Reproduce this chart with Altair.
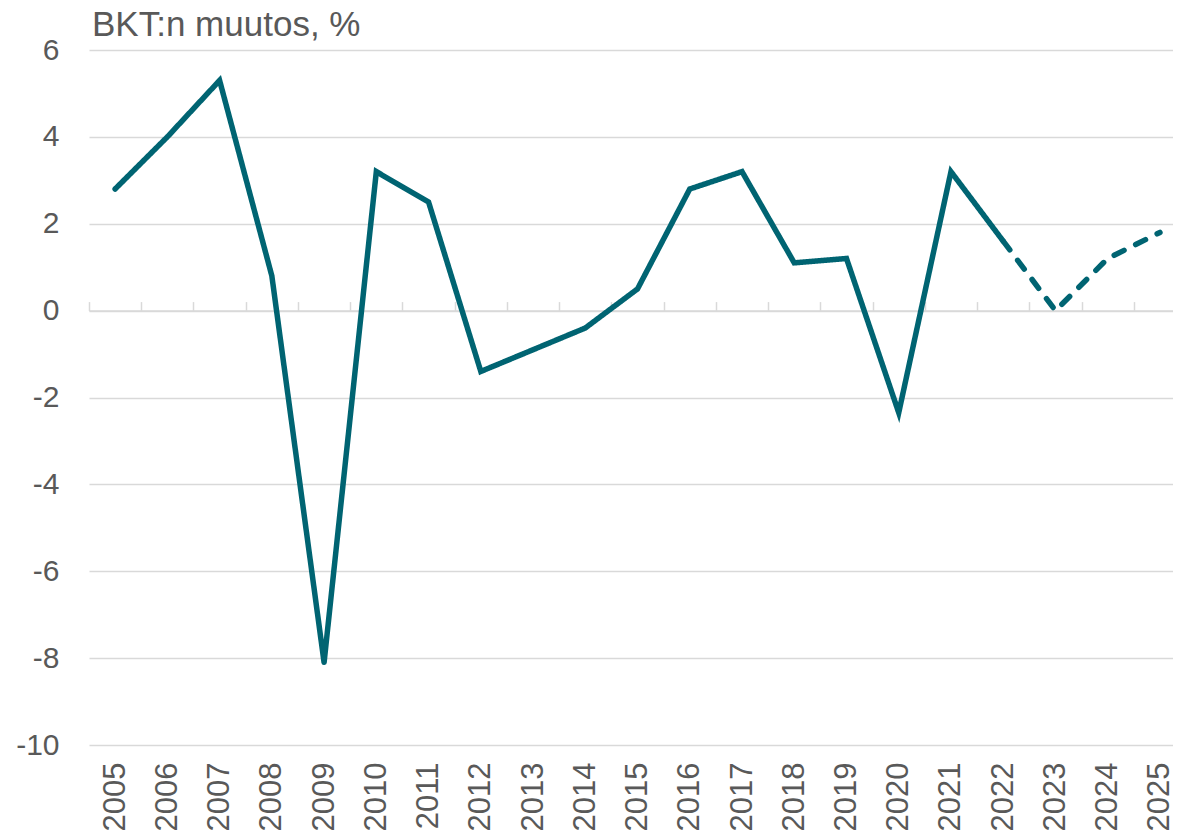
import altair as alt
import pandas as pd

years = list(range(2005, 2026))
actual_years = list(range(2005, 2023))
actual_vals = [2.8, 4.0, 5.3, 0.8, -8.1, 3.2, 2.5, -1.4, -0.9, -0.4, 0.5, 2.8, 3.2, 1.1, 1.2, -2.35, 3.2, 1.6]
forecast_years = [2022, 2023, 2024, 2025]
forecast_vals = [1.6, 0.0, 1.2, 1.8]
y_ticks = list(range(-10, 7, 2))
title_text = "BKT:n muutos, %"

df = pd.DataFrame(
    {"year": actual_years + forecast_years,
     "value": actual_vals + forecast_vals,
     "seg": ["a"] * len(actual_years) + ["b"] * len(forecast_years)}
)

TEXT = "#595959"
GRID = "#D9D9D9"
LINE = "#006472"
FONT = "Liberation Sans"

boundaries = [y - 0.5 for y in years] + [years[-1] + 0.5]
xscale = alt.Scale(domain=[2004.5, 2025.25], nice=False, zero=False)
yscale = alt.Scale(domain=[-10, 6], nice=False)
yaxis = alt.Axis(values=y_ticks, title=None, domain=False, labelExpr="datum.value",
                 ticks=False, tickSize=0, labelPadding=30, labelFontSize=30,
                 labelColor=TEXT, labelFont=FONT, grid=True, gridColor=GRID,
                 gridWidth=1.5)

line = alt.Chart(df).mark_line(strokeWidth=5.5, strokeCap="round", strokeJoin="miter").encode(
    x=alt.X("year:Q", scale=xscale,
            axis=alt.Axis(orient="top", offset=-260.6, labels=False, title=None,
                          values=boundaries,
                          domain=True, domainColor=GRID, domainWidth=1.5,
                          ticks=True, tickSize=9, tickColor=GRID,
                          tickWidth=1.5, grid=False)),
    y=alt.Y("value:Q", scale=yscale, axis=yaxis),
    color=alt.value(LINE),
    strokeDash=alt.StrokeDash("seg:N", scale=alt.Scale(domain=["a", "b"], range=[[1, 0], [11, 13]]), legend=None),
    detail="seg:N",
)

labels = alt.Chart(df).mark_point(opacity=0).encode(
    x=alt.X("year:Q", scale=xscale,
            axis=alt.Axis(orient="bottom", values=years, labelExpr="datum.value",
                          labelAngle=270, labelPadding=17, labelFontSize=31,
                          labelColor=TEXT, labelFont=FONT, title=None, domain=False,
                          ticks=False, tickSize=0, grid=False, labelOverlap=False,
                          labelBound=False, labelFlush=False)),
    y=alt.Y("value:Q", scale=yscale, axis=yaxis),
)

title = alt.Chart(pd.DataFrame({"t": [title_text]})).mark_text(
    align="left", baseline="alphabetic", fontSize=35, font=FONT, color=TEXT
).encode(text="t:N", x=alt.value(3), y=alt.value(-14))

chart = alt.layer(line, labels, title).resolve_scale(x="independent").resolve_axis(x="independent").properties(
    width=1084,
    height=695,
    autosize=alt.AutoSizeParams(type="none"),
    padding={"left": 81, "top": 42, "right": 0, "bottom": 91},
).configure_view(stroke=None)

chart.save("out.html", embed_options={"renderer": "svg", "actions": False})
